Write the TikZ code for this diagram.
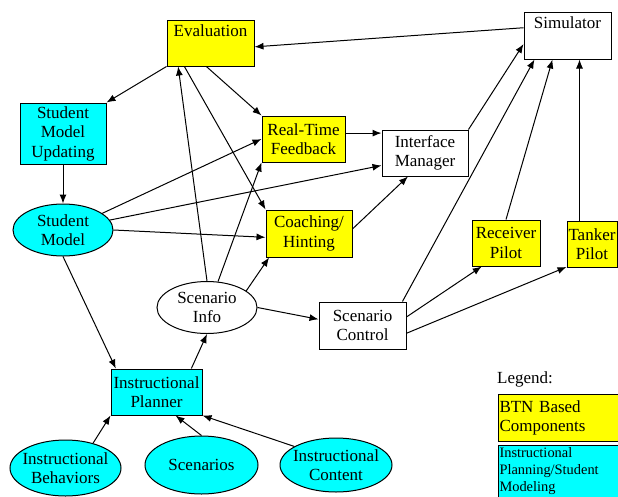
\documentclass[tikz,border=0pt]{standalone}
\usepackage{fontspec}
\setmainfont{Liberation Serif}
\usepackage{tikz}
\usetikzlibrary{shapes.geometric, arrows.meta}
\definecolor{btnyellow}{RGB}{255,255,0}
\definecolor{planaqua}{RGB}{0,255,255}
\tikzstyle{btnbox} = [rectangle, draw=black, fill=btnyellow, align=center, inner sep=1pt, line width=1pt]
\tikzstyle{planbox} = [rectangle, draw=black, fill=planaqua, align=center, inner sep=1pt, line width=1pt]
\tikzstyle{plainbox} = [rectangle, draw=black, fill=white, align=center, inner sep=1pt, line width=1pt]
\tikzstyle{planoval} = [ellipse, draw=black, fill=planaqua, align=center, inner xsep=-6pt, inner ysep=0pt, line width=1pt]
\tikzstyle{plainoval} = [ellipse, draw=black, fill=white, align=center, inner xsep=-6pt, inner ysep=0pt, line width=1pt]
\tikzstyle{keybox} = [rectangle, draw=black, anchor=north west, align=left, inner sep=1pt, text width=128pt, line width=1pt]
\tikzstyle{arrow} = [line width=1pt, -{Latex[length=9pt, width=7pt]}]

\begin{document}
\begin{tikzpicture}[x=1pt, y=-1pt, font=\fontsize{17}{19.5}\selectfont]
\useasboundingbox (0,0) rectangle (618,496);

\node (eval) [btnbox, minimum width=87pt, minimum height=46pt] at (210.5,43) {Evaluation\\\strut};

\node (sim) [plainbox, minimum width=87pt, minimum height=47pt] at (567.5,35.5) {Simulator\\\strut};

\node (smu) [planbox, minimum width=86pt, minimum height=61pt] at (63,133.5) {Student\\Model\\Updating};

\node (rtf) [btnbox, minimum width=83pt, minimum height=46pt] at (303.5,139) {Real-Time\\Feedback};

\node (im) [plainbox, minimum width=86pt, minimum height=46pt] at (425,153) {Interface\\Manager};

\node (sm) [planoval, minimum width=100pt, minimum height=52pt] at (63,230) {Student\\Model};

\node (coach) [btnbox, minimum width=86pt, minimum height=47pt] at (309,233.5) {Coaching/\\Hinting};

\node (recv) [btnbox, minimum width=68pt, minimum height=46pt] at (506,243) {Receiver\\Pilot};

\node (tank) [btnbox, minimum width=50pt, minimum height=46pt] at (592,244) {Tanker\\Pilot};

\node (si) [plainoval, minimum width=100pt, minimum height=52pt] at (207,307.5) {Scenario\\Info};

\node (sc) [plainbox, minimum width=87pt, minimum height=47pt] at (362.5,325.5) {Scenario\\Control};

\node (ip) [planbox, minimum width=91pt, minimum height=46pt] at (156.5,392) {Instructional\\Planner};

\node (ib) [planoval, minimum width=111pt, minimum height=56pt] at (65.5,468) {Instructional\\Behaviors};

\node (scen) [planoval, minimum width=113pt, minimum height=58pt] at (201.5,465) {Scenarios};

\node (ic) [planoval, minimum width=112pt, minimum height=54pt] at (336,465) {Instructional\\Content};

\node (key) at (525,379) {Legend:};

\node (keybtn) [keybox, fill=btnyellow, minimum height=47pt] at (498,394) {BTN Based\\Components};

\node (keyplan) [keybox, fill=planaqua, minimum height=52pt, font=\fontsize{14.4}{17}\selectfont] at (498,445) {Instructional\\Planning/Student\\Modeling};

\draw [arrow] (sim.170) -- (eval.-5);

\draw [arrow] (eval.south west) -- (smu.north east);

\draw [arrow] (eval.-100) -- (rtf.north west);

\draw [arrow] (eval.-138) -- (coach.north west);

\draw [arrow] (si.north) -- (eval.-144);

\draw [arrow] (smu) -- (sm);

\draw [arrow] (sm.23) -- (rtf.west);

\draw [arrow] (sm.12) -- (im.196);

\draw [arrow] (sm.east) -- (coach.185);

\draw [arrow] (sm.south) -- (ip.150);

\draw [arrow] (si.67) -- (rtf.south west);

\draw [arrow] (si.23) -- (coach.-149);

\draw [arrow] (si.east) -- (sc.172);

\draw [arrow] (rtf.8) -- (rtf.8 -| im.west);

\draw [arrow] (coach.6) -- (im.-126);

\draw [arrow] (im.north east) -- (sim.191);

\draw [arrow] (sc.31) -- (sim.-144);

\draw [arrow] (sc.11) -- (recv.-136);

\draw [arrow] (sc.-10) -- (tank.-138);

\draw [arrow] (recv.north) -- (sim.-122);

\draw [arrow] ([xshift=13pt]tank.north west) -- ([xshift=13pt]tank.north west |- sim.south);

\draw [arrow] (ip.34) -- (si.south);

\draw [arrow] (ib.42) -- (ip.south west);

\draw [arrow] (scen.north) -- (ip.-51);

\draw [arrow] (ic.156) -- (ip.south east);

\end{tikzpicture}
\end{document}
